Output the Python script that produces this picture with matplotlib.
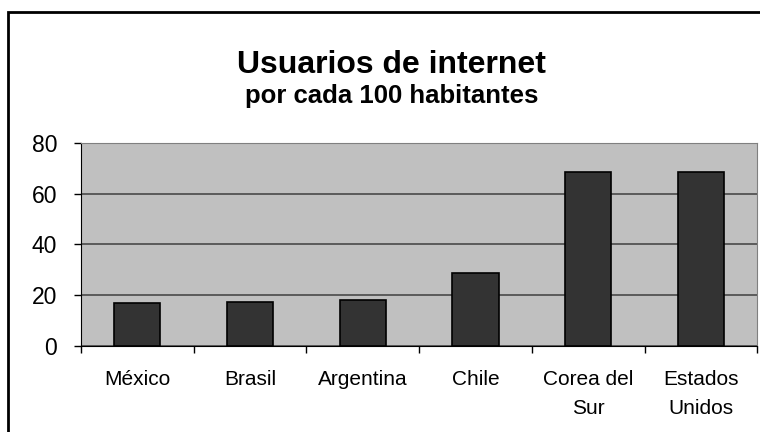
import numpy as np
import matplotlib.pyplot as plt
from matplotlib.patches import Rectangle

paises = ['México', 'Brasil', 'Argentina', 'Chile', 'Corea del\nSur', 'Estados\nUnidos']
usuarios = [16.8, 17.4, 18.0, 28.9, 68.6, 68.6]
y_ticks = [0, 20, 40, 60, 80]

plt.rcParams['font.family'] = ['Liberation Sans', 'DejaVu Sans']

fig = plt.figure(figsize=(7.6, 4.32), dpi=100)
ax = fig.add_axes([0.1062, 0.199, 0.8905, 0.4707])

# Chart frame around everything
fig.patches.append(Rectangle((8 / 760, -0.05), 1.0, (432 - 12) / 432 + 0.05,
                             transform=fig.transFigure, fill=False,
                             edgecolor='black', linewidth=2, zorder=0))

x = np.arange(len(paises))
ax.set_facecolor('#c0c0c0')
ax.bar(x, usuarios, width=0.41, color='#333333', edgecolor='black',
       linewidth=1.2, zorder=3)

ax.set_xlim(-0.5, len(paises) - 0.5)
ax.set_ylim(0, 80)
ax.set_yticks(y_ticks)
ax.set_yticklabels([str(v) for v in y_ticks], fontsize=16.5)
ax.yaxis.grid(True, color='#404040', linewidth=1.1, zorder=1)

ax.set_xticks(np.arange(len(paises) + 1) - 0.5, minor=False)
ax.set_xticklabels([])
ax.set_xticks(x, minor=True)
ax.set_xticklabels(paises, minor=True, fontsize=15, linespacing=1.65)
ax.tick_params(axis='x', which='minor', length=0, pad=17.5)
ax.tick_params(axis='x', which='major', direction='out', length=5, width=1)
ax.tick_params(axis='y', direction='out', length=5, width=1, pad=12)

for side in ['top', 'right']:
    ax.spines[side].set_color('#808080')
for side in ['left', 'bottom']:
    ax.spines[side].set_color('black')

fig.text(0.515, (432 - 73) / 432, 'Usuarios de internet', ha='center',
         va='baseline', fontsize=23, fontweight='bold')
fig.text(0.515, (432 - 103) / 432, 'por cada 100 habitantes', ha='center',
         va='baseline', fontsize=18.5, fontweight='bold')

fig.savefig('out.png', dpi=100)
